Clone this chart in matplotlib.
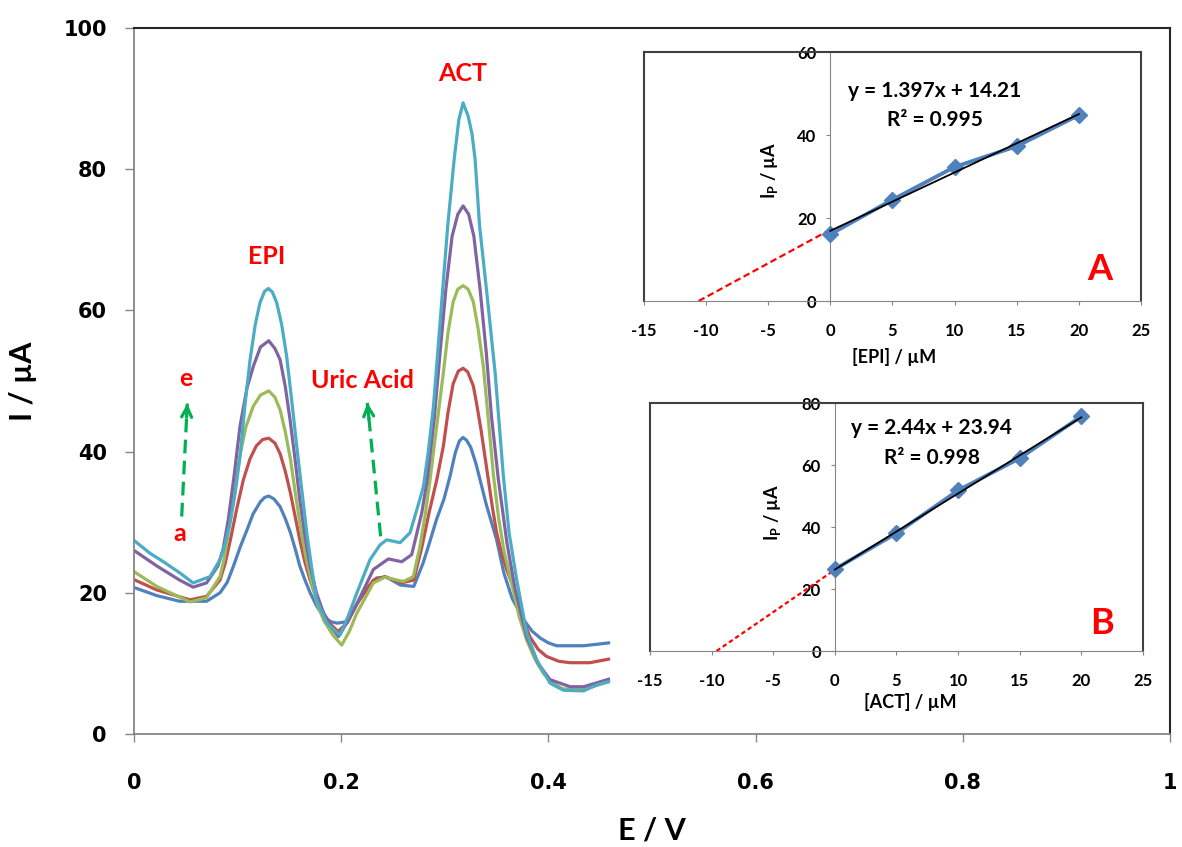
import matplotlib
matplotlib.use('Agg')
import matplotlib.pyplot as plt
import numpy as np

plt.rcParams['font.family'] = ['Lato', 'DejaVu Sans']
plt.rcParams['font.weight'] = 'bold'
plt.rcParams['axes.unicode_minus'] = False
plt.rcParams['mathtext.fontset'] = 'custom'
plt.rcParams['mathtext.rm'] = 'Lato:bold'
plt.rcParams['mathtext.bf'] = 'Lato:bold'

# DPV curves a..e (E / V, I / uA)
e_a = [0.001, 0.022, 0.044, 0.070, 0.083, 0.090, 0.096, 0.102, 0.109, 0.115, 0.122, 0.126, 0.130,
       0.135, 0.141, 0.146, 0.151, 0.156, 0.160, 0.165, 0.170, 0.176, 0.183, 0.190, 0.196, 0.205,
       0.213, 0.221, 0.234, 0.244, 0.257, 0.270, 0.279, 0.285, 0.292, 0.299, 0.305, 0.310, 0.314,
       0.3176, 0.321, 0.325, 0.330, 0.334, 0.340, 0.345, 0.350, 0.357, 0.365, 0.376, 0.384,
       0.392, 0.400, 0.408, 0.434, 0.458]
i_a = [20.7, 19.6, 18.8, 18.8, 20.0, 21.5, 23.8, 26.3, 28.9, 31.2, 32.9, 33.5, 33.7,
       33.3, 32.2, 30.5, 28.5, 26.0, 23.8, 21.8, 20.0, 18.2, 16.6, 15.9, 15.7, 15.9,
       17.8, 20.0, 22.1, 22.2, 21.1, 20.9, 24.2, 27.0, 30.4, 33.2, 36.5, 39.8, 41.5,
       42.0, 41.6, 40.6, 38.3, 36.0, 32.5, 30.0, 27.5, 22.8, 19.2, 16.2, 14.6,
       13.6, 12.9, 12.5, 12.5, 12.9]

e_b = [0.001, 0.022, 0.054, 0.070, 0.083, 0.088, 0.093, 0.099, 0.1055, 0.112, 0.118, 0.124, 0.130,
       0.136, 0.141, 0.146, 0.151, 0.1555, 0.160, 0.165, 0.170, 0.176, 0.183, 0.190, 0.197, 0.206,
       0.215, 0.231, 0.242, 0.258, 0.270, 0.278, 0.285, 0.2922, 0.2986, 0.303, 0.308, 0.313,
       0.3176, 0.322, 0.3275, 0.331, 0.335, 0.342, 0.346, 0.350, 0.355, 0.360, 0.3694, 0.376,
       0.382, 0.390, 0.398, 0.410, 0.421, 0.440, 0.458]
i_b = [21.8, 20.4, 19.0, 19.5, 21.8, 24.2, 27.5, 31.8, 36.0, 39.0, 40.8, 41.7, 41.9,
       41.2, 39.7, 37.2, 34.1, 30.8, 27.5, 24.3, 21.8, 19.2, 17.1, 15.5, 14.5, 15.8,
       18.4, 21.8, 22.3, 21.4, 21.8, 26.6, 31.5, 36.0, 40.8, 45.5, 49.6, 51.4,
       51.8, 51.3, 49.3, 46.5, 43.0, 36.0, 32.0, 28.5, 25.5, 23.2, 19.5, 16.0,
       13.8, 12.0, 11.0, 10.3, 10.1, 10.1, 10.6]

e_c = [0.001, 0.022, 0.054, 0.070, 0.083, 0.087, 0.091, 0.0965, 0.102, 0.108, 0.115, 0.122, 0.130,
       0.136, 0.141, 0.146, 0.151, 0.1555, 0.160, 0.1655, 0.1715, 0.177, 0.183, 0.192, 0.2005,
       0.208, 0.215, 0.231, 0.242, 0.260, 0.2696, 0.276, 0.281, 0.2857, 0.2905, 0.2986, 0.303,
       0.308, 0.3125, 0.3176, 0.3225, 0.3275, 0.332, 0.3372, 0.342, 0.347, 0.352, 0.357, 0.366,
       0.372, 0.379, 0.387, 0.395, 0.404, 0.414, 0.434, 0.458]
i_c = [22.9, 20.9, 18.7, 19.3, 22.3, 24.8, 28.5, 33.8, 39.3, 43.5, 46.4, 48.0, 48.6,
       47.7, 45.9, 42.8, 38.9, 34.3, 29.9, 25.3, 21.4, 18.4, 16.1, 14.0, 12.6,
       14.6, 17.1, 21.4, 22.2, 21.6, 22.3, 26.6, 31.0, 36.0, 41.7, 51.2, 56.8,
       61.2, 63.0, 63.5, 63.0, 61.2, 57.5, 52.0, 44.5, 36.5, 30.5, 26.0, 20.4,
       16.5, 13.3, 10.6, 8.6, 7.2, 6.4, 6.3, 7.4]

e_d = [0.001, 0.022, 0.044, 0.057, 0.070, 0.081, 0.086, 0.091, 0.0965, 0.1023, 0.109, 0.1152, 0.122,
       0.130, 0.136, 0.141, 0.146, 0.1506, 0.1555, 0.160, 0.165, 0.1699, 0.176, 0.183, 0.190,
       0.1973, 0.206, 0.215, 0.231, 0.2455, 0.2584, 0.268, 0.2777, 0.283, 0.290, 0.2954, 0.301,
       0.307, 0.3125, 0.3176, 0.323, 0.328, 0.334, 0.340, 0.345, 0.3517, 0.360, 0.368, 0.379,
       0.390, 0.4015, 0.4209, 0.434, 0.458]
i_d = [25.9, 23.8, 21.8, 20.8, 21.4, 23.8, 26.2, 30.4, 36.5, 43.6, 49.0, 52.1, 54.8,
       55.7, 54.6, 53.0, 49.2, 44.5, 38.8, 33.2, 28.0, 23.8, 20.0, 17.1, 15.2,
       13.8, 15.9, 18.4, 23.3, 24.8, 24.4, 25.4, 31.3, 36.0, 45.0, 54.0, 63.0,
       70.5, 73.6, 74.8, 73.6, 70.5, 63.0, 54.0, 45.0, 36.0, 27.0, 20.4, 13.8,
       10.0, 7.7, 6.7, 6.7, 7.75]

e_e = [0.001, 0.0154, 0.0283, 0.0444, 0.057, 0.0734, 0.083, 0.088, 0.0927, 0.0975, 0.1023, 0.107,
       0.112, 0.117, 0.1216, 0.126, 0.1297, 0.1335, 0.1377, 0.1425, 0.1473, 0.152, 0.157, 0.162,
       0.1667, 0.1715, 0.1763, 0.186, 0.1988, 0.207, 0.215, 0.2278, 0.2375, 0.244, 0.2568,
       0.2664, 0.2744, 0.2793, 0.284, 0.289, 0.2954, 0.3028, 0.309, 0.3135, 0.3176, 0.3225,
       0.3262, 0.3292, 0.3335, 0.3405, 0.3485, 0.3565, 0.362, 0.3694, 0.379, 0.3887, 0.4015,
       0.4144, 0.4337, 0.4466, 0.4578]
i_e = [27.3, 25.6, 24.4, 22.8, 21.4, 22.3, 24.7, 27.0, 29.9, 34.0, 39.3, 46.5,
       53.0, 58.0, 61.1, 62.7, 63.1, 62.6, 61.1, 58.0, 53.5, 47.5, 40.8, 34.5,
       28.5, 23.5, 19.0, 15.7, 14.0, 16.8, 19.95, 24.7, 26.8, 27.5, 27.1,
       28.5, 32.5, 35.0, 40.0, 46.4, 58.3, 72.0, 81.4, 87.0, 89.4, 87.5,
       85.0, 81.4, 72.0, 62.5, 51.2, 36.5, 28.5, 21.8, 14.3, 10.5, 7.2,
       6.2, 6.1, 6.95, 7.4]

curve_colors = ['#4F81BD', '#C0504D', '#9BBB59', '#8064A2', '#4BACC6']

# Calibration insets
conc = [0, 5, 10, 15, 20]
ip_epi = [16.1, 24.4, 32.3, 37.3, 44.8]
ip_act = [26.4, 38.0, 51.8, 62.2, 75.7]
epi_extrap_x = [-10.6, 0]
epi_extrap_y = [0, 17.2]
act_extrap_x = [-9.6, 0]
act_extrap_y = [0, 26.2]

fig = plt.figure(figsize=(11.82, 8.47), dpi=100)
ax = fig.add_axes([0.1134, 0.1334, 0.8765, 0.8336])

for e, i, c in zip([e_a, e_b, e_c, e_d, e_e], [i_a, i_b, i_c, i_d, i_e], curve_colors):
    ax.plot(e, i, color=c, lw=2.3, solid_joinstyle='round')

ax.set_xlim(0, 1)
ax.set_ylim(0, 100)
ax.set_xticks([0, 0.2, 0.4, 0.6, 0.8, 1.0])
ax.set_xticklabels(['0', '0.2', '0.4', '0.6', '0.8', '1'])
ax.set_yticks(range(0, 101, 20))
for lab in ax.get_xticklabels() + ax.get_yticklabels():
    lab.set_fontfamily('DejaVu Sans')
    lab.set_fontweight('bold')
    lab.set_fontsize(15)
ax.tick_params(axis='x', direction='out', length=6, width=1, color='#868686', pad=22)
ax.tick_params(axis='y', direction='out', length=6.5, width=1, color='#868686', pad=13)
ax.spines['left'].set_color('#868686')
ax.spines['bottom'].set_color('#868686')
for s in ['top', 'right']:
    ax.spines[s].set_color('#262626')
    ax.spines[s].set_linewidth(1.5)
for s in ['left', 'bottom']:
    ax.spines[s].set_linewidth(1.3)

ax.set_xlabel('E / V', fontsize=22, fontweight='bold')
ax.xaxis.set_label_coords(0.5, -0.117)
ax.set_ylabel('I / µA', fontsize=22, fontweight='bold')
ax.yaxis.set_label_coords(-0.094, 0.5)

red = '#FF0000'
green = '#00B050'
ax.text(0.3176, 93.6, 'ACT', color=red, fontsize=18, ha='center', va='center')
ax.text(0.1284, 67.7, 'EPI', color=red, fontsize=18, ha='center', va='center')
ax.text(0.220, 50.1, 'Uric Acid', color=red, fontsize=18, ha='center', va='center')
ax.text(0.0502, 50.3, 'e', color=red, fontsize=18, ha='center', va='center')
ax.text(0.0444, 28.4, 'a', color=red, fontsize=18, ha='center', va='center')


def dashed_arrow(x0, y0, x1, y1):
    ax.plot([x0, x1], [y0, y1], color=green, lw=2.3, linestyle=(0, (4.3, 2.3)),
            solid_capstyle='butt')
    ax.annotate('', xy=(x1, y1), xytext=(x1 - (x1 - x0) * 0.12, y1 - (y1 - y0) * 0.12),
                arrowprops=dict(arrowstyle='->', color=green, lw=2.3, mutation_scale=18,
                                shrinkA=0, shrinkB=0))


dashed_arrow(0.046, 30.8, 0.0514, 46.8)
dashed_arrow(0.238, 28.0, 0.2252, 46.9)


def style_inset(axi, ymax, ystep):
    axi.set_xlim(-15, 25)
    axi.set_ylim(0, ymax)
    axi.set_xticks(range(-15, 26, 5))
    axi.set_yticks(range(0, ymax + 1, ystep))
    axi.spines['left'].set_position(('data', 0))
    axi.spines['left'].set_color('#868686')
    axi.spines['bottom'].set_color('#868686')
    for s in ['top', 'right']:
        axi.spines[s].set_color('#404040')
        axi.spines[s].set_linewidth(1.5)
    axi.plot([0, 0], [0, 1], transform=axi.transAxes, color='#404040', lw=1.5, clip_on=False)
    axi.tick_params(axis='x', direction='out', length=3, color='#868686', labelsize=12, pad=13)
    axi.tick_params(axis='y', direction='out', length=3, color='#868686', labelsize=12, pad=7)
    for lab in axi.get_xticklabels() + axi.get_yticklabels():
        lab.set_fontweight('bold')


def fit_line(axi, x, y):
    k, b = np.polyfit(x, y, 1)
    xx = np.array([min(x), max(x)])
    axi.plot(xx, k * xx + b, color='black', lw=1.3, zorder=4)


axA = fig.add_axes([0.5448, 0.6446, 0.4205, 0.2940])
style_inset(axA, 60, 20)
axA.plot(conc, ip_epi, color='#4F81BD', lw=2.8, marker='D', markersize=8, zorder=3)
fit_line(axA, conc, ip_epi)
axA.plot(epi_extrap_x, epi_extrap_y, color=red, lw=1.6, linestyle=(0, (3, 1.6)))
axA.text(8.4, 50.6, 'y = 1.397x + 14.21', fontsize=15, ha='center', va='center')
axA.text(8.4, 43.7, 'R² = 0.995', fontsize=15, ha='center', va='center')
axA.text(-4.9, 31.6, r'I$_\mathrm{P}$ / µA', fontsize=13, rotation=90, ha='center', va='center')
axA.text(21.7, 7.7, 'A', color=red, fontsize=26, ha='center', va='center')
axA.text(0.503, -0.225, '[EPI] / µM', transform=axA.transAxes, fontsize=13, ha='center', va='center')

axB = fig.add_axes([0.5499, 0.2314, 0.4171, 0.2928])
style_inset(axB, 80, 20)
axB.plot(conc, ip_act, color='#4F81BD', lw=2.8, marker='D', markersize=8, zorder=3)
fit_line(axB, conc, ip_act)
axB.plot(act_extrap_x, act_extrap_y, color=red, lw=1.6, linestyle=(0, (2, 1.4)))
axB.text(7.85, 71.9, 'y = 2.44x + 23.94', fontsize=15, ha='center', va='center')
axB.text(7.85, 62.3, 'R² = 0.998', fontsize=15, ha='center', va='center')
axB.text(-5.1, 44.9, r'I$_\mathrm{P}$ / µA', fontsize=13, rotation=90, ha='center', va='center')
axB.text(21.7, 9.0, 'B', color=red, fontsize=26, ha='center', va='center')
axB.text(0.529, -0.205, '[ACT] / µM', transform=axB.transAxes, fontsize=13, ha='center', va='center')

fig.savefig('out.png', dpi=100, facecolor='white')
